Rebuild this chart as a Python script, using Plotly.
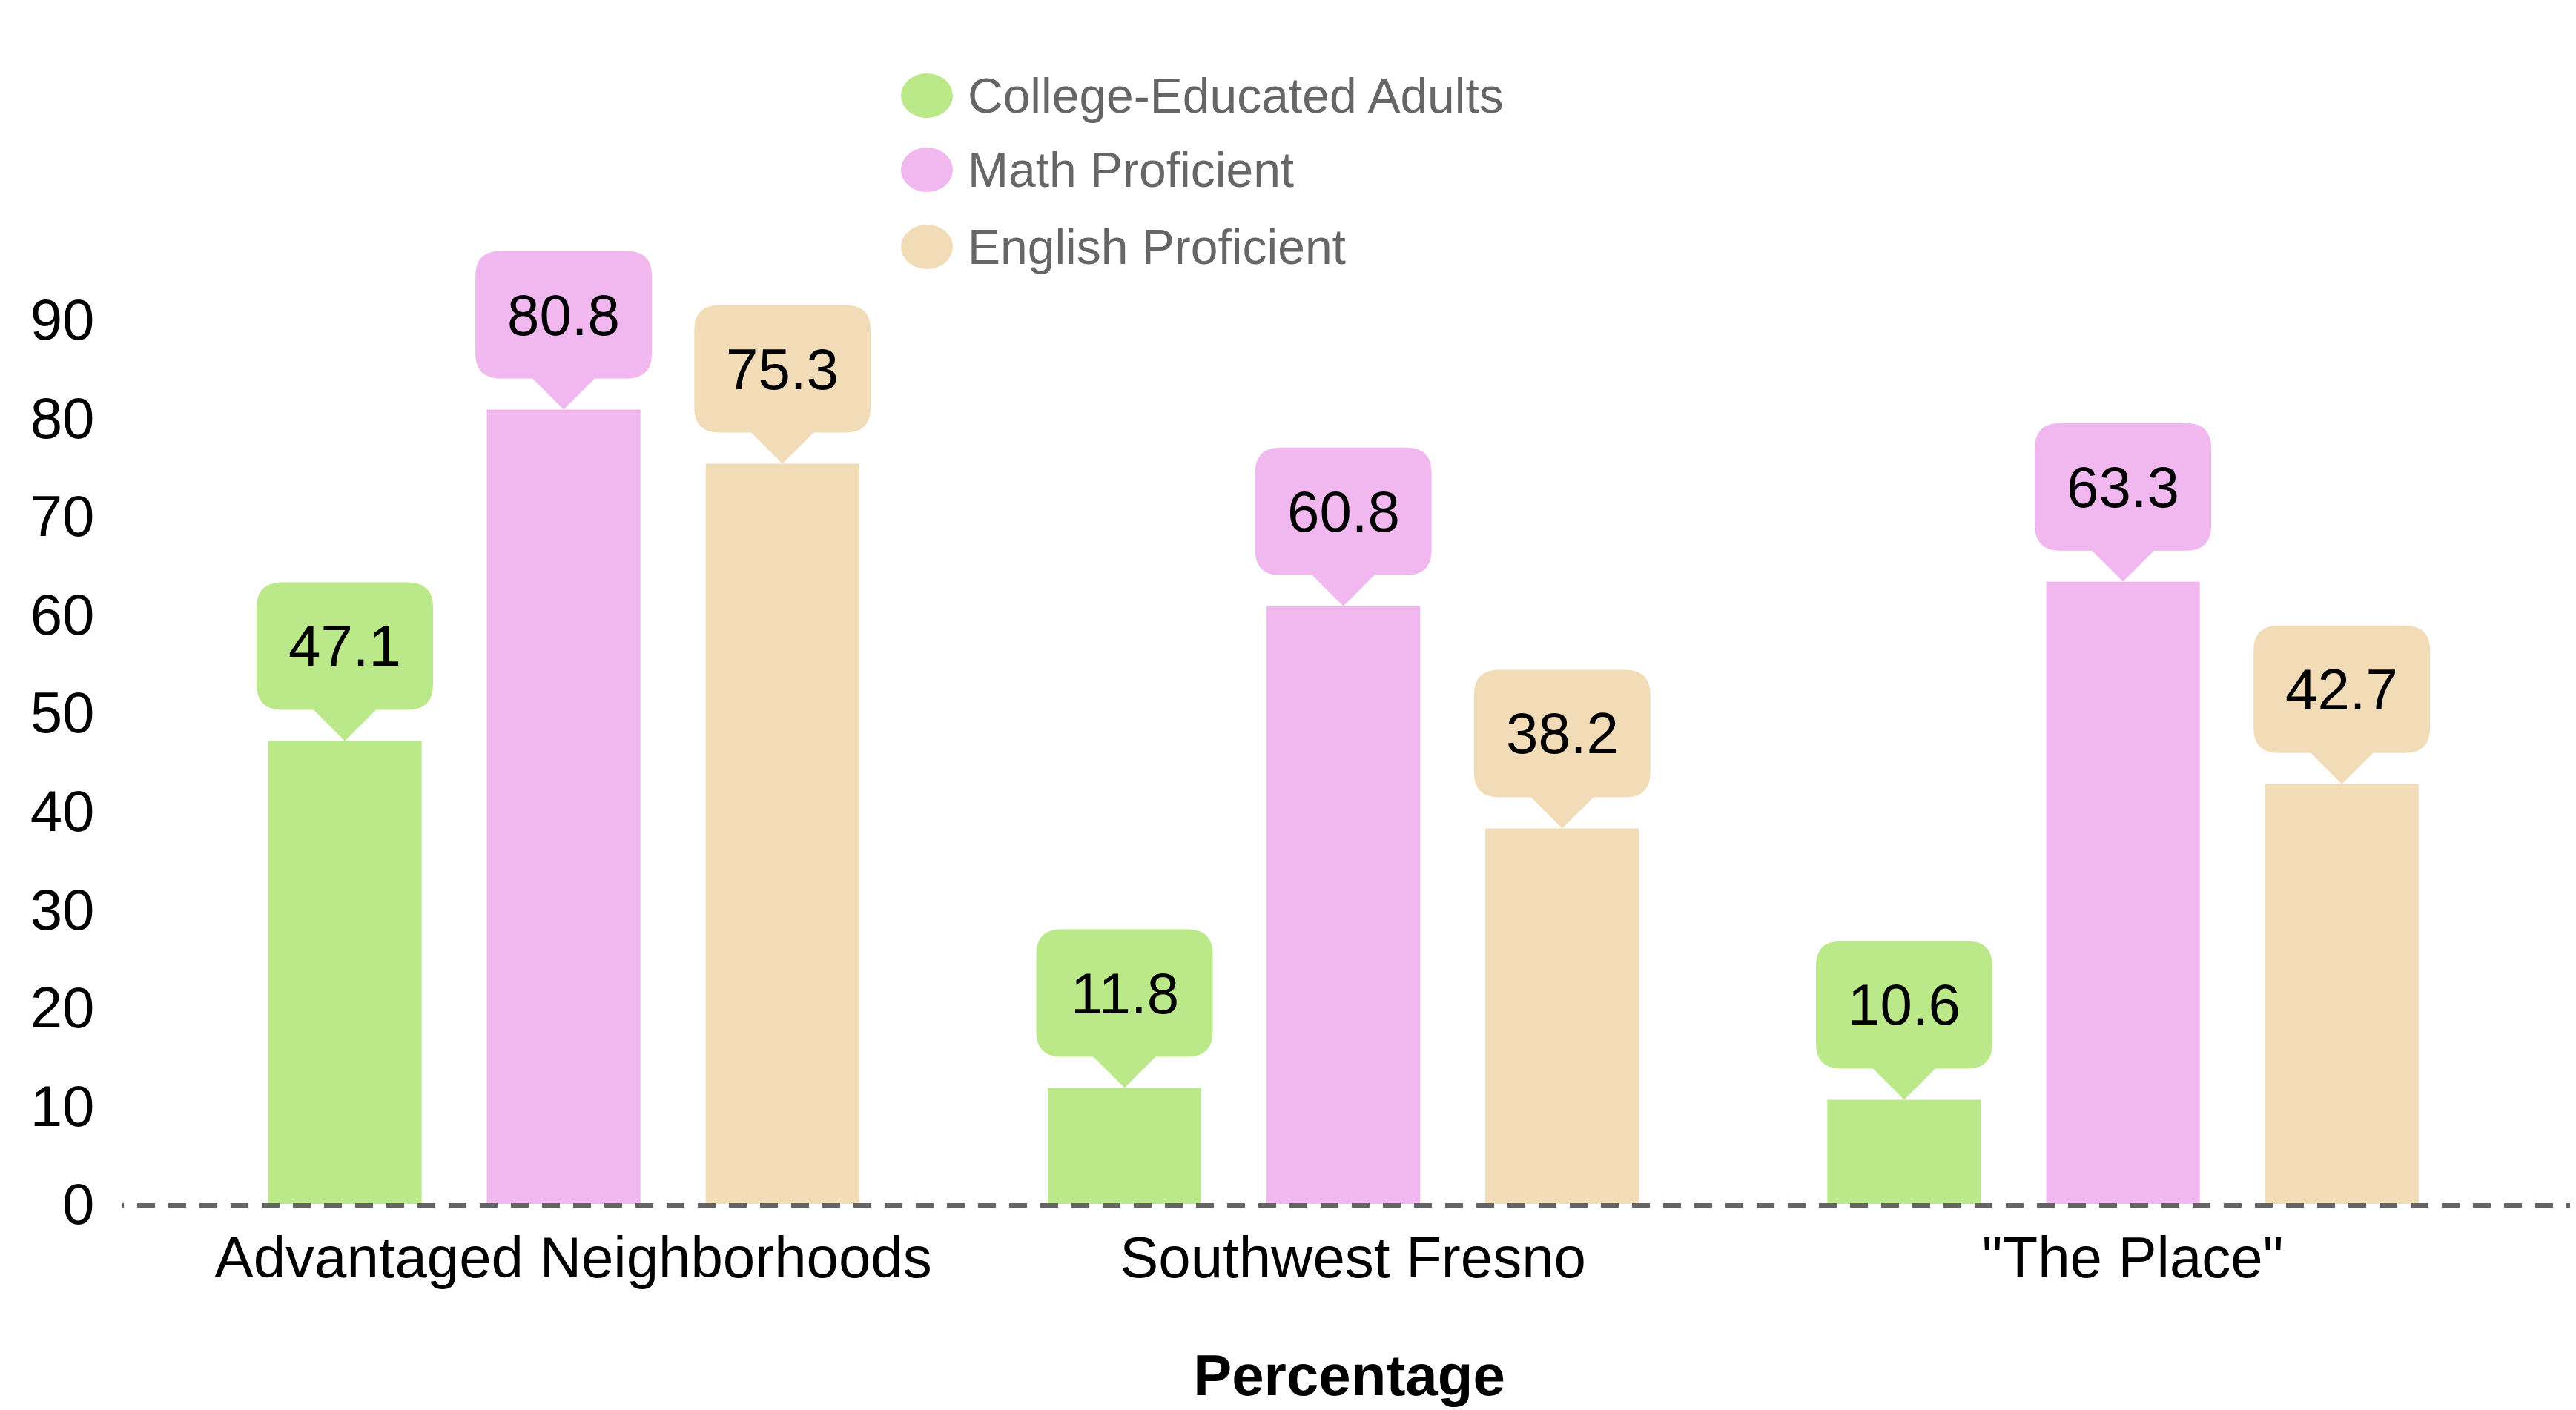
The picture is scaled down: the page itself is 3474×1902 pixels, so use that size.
import plotly.graph_objects as go

# ---- data ----
categories = ["Advantaged Neighborhoods", "Southwest Fresno", "\"The Place\""]
college_educated = [47.1, 11.8, 10.6]
math_proficient = [80.8, 60.8, 63.3]
english_proficient = [75.3, 38.2, 42.7]
series_names = ["College-Educated Adults", "Math Proficient", "English Proficient"]
y_ticks = [0, 10, 20, 30, 40, 50, 60, 70, 80, 90]

colors = ["#BBE989", "#F0B8EE", "#F2DCB7"]
series = [college_educated, math_proficient, english_proficient]

OFF = 8  # page body offset
W, H = 3474 - OFF, 1902 - OFF
ML, MT = 165 - OFF, 298 - OFF
PW, PH = 3309, 1326
MR, MB = W - ML - PW, H - MT - PH
FONT = "Liberation Sans, Arial, sans-serif"

bargap = 0.158
bargroupgap = 0.298
slot = (1 - bargap) / 3

fig = go.Figure()
for name, vals, col in zip(series_names, series, colors):
    fig.add_trace(go.Bar(x=categories, y=vals, name=name, marker=dict(color=col, line=dict(width=0)),
                         showlegend=False, hoverinfo="x+y+name"))

shapes = []
annotations = []

# callout labels
hw, r, ph, bh = 119, 34, 42, 172
top = ph + bh
callout_path = (
    f"M 0,0 L {ph},{ph} L {hw - r},{ph} Q {hw},{ph} {hw},{ph + r} "
    f"L {hw},{top - r} Q {hw},{top} {hw - r},{top} "
    f"L {-hw + r},{top} Q {-hw},{top} {-hw},{top - r} "
    f"L {-hw},{ph + r} Q {-hw},{ph} {-hw + r},{ph} L {-ph},{ph} Z"
)
for k, (vals, col) in enumerate(zip(series, colors)):
    for i, v in enumerate(vals):
        xpos = i + (k - 1) * slot
        shapes.append(dict(type="path", xref="x", yref="y", xsizemode="pixel", ysizemode="pixel",
                           xanchor=xpos, yanchor=v, path=callout_path,
                           fillcolor=col, line=dict(width=0), layer="above"))
        annotations.append(dict(x=xpos, y=v, xref="x", yref="y", text=f"{v}", showarrow=False,
                                yshift=ph + bh / 2, yanchor="middle", xanchor="center",
                                font=dict(family=FONT, size=78, color="#000000")))

# dashed baseline (paper-referenced so it is not clipped at the plot edge)
base_y = -2 / PH
shapes.append(dict(type="line", xref="paper", yref="paper", x0=0, x1=2 / PW, y0=base_y, y1=base_y,
                   line=dict(color="#656565", width=6), layer="above"))
shapes.append(dict(type="line", xref="paper", yref="paper", x0=20 / PW, x1=1.01, y0=base_y, y1=base_y,
                   line=dict(color="#656565", width=6, dash="24px,18px"), layer="above"))

# manual legend with round markers
legend_x_px, legend_text_px = 1250, 1303
legend_y_px = [129, 229, 333]
for name, col, ypx in zip(series_names, colors, legend_y_px):
    px = (legend_x_px - 165) / PW
    py = 1 - (ypx - 298) / PH
    shapes.append(dict(type="circle", xref="paper", yref="paper", xsizemode="pixel", ysizemode="pixel",
                       xanchor=px, yanchor=py, x0=-35, x1=35, y0=-30, y1=30,
                       fillcolor=col, line=dict(width=0)))
    annotations.append(dict(x=(legend_text_px - 165) / PW, y=py, xref="paper", yref="paper",
                            text=name, showarrow=False, xanchor="left", yanchor="middle",
                            font=dict(family=FONT, size=66, color="#666666")))

fig.update_layout(
    width=W, height=H,
    margin=dict(l=ML, r=MR, t=MT, b=MB, pad=0),
    paper_bgcolor="white", plot_bgcolor="white",
    barmode="group", bargap=bargap, bargroupgap=bargroupgap,
    font=dict(family=FONT, size=78, color="#000000"),
    shapes=shapes, annotations=annotations,
    showlegend=False,
    xaxis=dict(range=[-0.566, 2.581], showgrid=False, zeroline=False, showline=False,
               ticks="outside", ticklen=4, tickcolor="rgba(0,0,0,0)", ticklabelshift=13,
               tickfont=dict(family=FONT, size=78, color="#000000"),
               title=dict(text="<b>Percentage</b>", font=dict(family=FONT, size=78, color="#000000"),
                          standoff=88)),
    yaxis=dict(range=[0, 100], tickvals=y_ticks, showgrid=False, zeroline=False, showline=False,
               ticks="outside", ticklen=21, tickcolor="rgba(0,0,0,0)",
               tickfont=dict(family=FONT, size=78, color="#000000")),
)

fig.write_html("out.html")
